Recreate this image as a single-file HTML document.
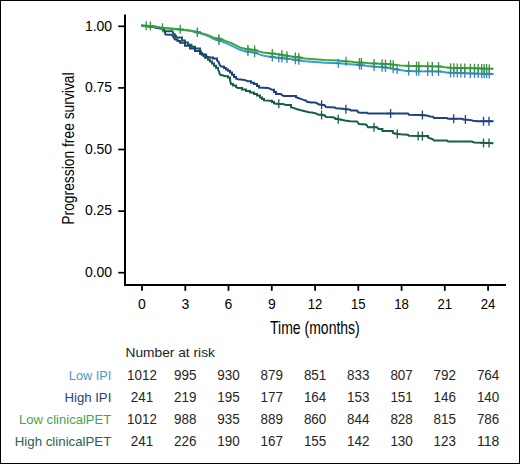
<!DOCTYPE html>
<html><head><meta charset="utf-8"><style>
html,body{margin:0;padding:0;background:#fff;}
body{width:520px;height:464px;overflow:hidden;}
.frame{position:absolute;left:0;top:0;width:518px;height:462px;border:1px solid #000;}
svg{position:absolute;left:0;top:0;font-family:"Liberation Sans",sans-serif;}
</style></head><body>
<div class="frame"></div>
<svg width="520" height="464" viewBox="0 0 520 464">
<path d="M125 14.5V285H506" fill="none" stroke="#000" stroke-width="2"/>
<path d="M118.2 26.3H125" stroke="#000" stroke-width="1.7"/>
<text x="112.1" y="30.5" text-anchor="end" font-size="14.5" textLength="27.2" lengthAdjust="spacingAndGlyphs">1.00</text>
<path d="M118.2 87.9H125" stroke="#000" stroke-width="1.7"/>
<text x="112.1" y="92.1" text-anchor="end" font-size="14.5" textLength="27.2" lengthAdjust="spacingAndGlyphs">0.75</text>
<path d="M118.2 149.5H125" stroke="#000" stroke-width="1.7"/>
<text x="112.1" y="153.7" text-anchor="end" font-size="14.5" textLength="27.2" lengthAdjust="spacingAndGlyphs">0.50</text>
<path d="M118.2 211.1H125" stroke="#000" stroke-width="1.7"/>
<text x="112.1" y="215.3" text-anchor="end" font-size="14.5" textLength="27.2" lengthAdjust="spacingAndGlyphs">0.25</text>
<path d="M118.2 272.7H125" stroke="#000" stroke-width="1.7"/>
<text x="112.1" y="276.9" text-anchor="end" font-size="14.5" textLength="27.2" lengthAdjust="spacingAndGlyphs">0.00</text>
<path d="M142.0 285V290.8" stroke="#000" stroke-width="1.8"/>
<text x="142.0" y="308.8" text-anchor="middle" font-size="14">0</text>
<path d="M185.3 285V290.8" stroke="#000" stroke-width="1.8"/>
<text x="185.3" y="308.8" text-anchor="middle" font-size="14">3</text>
<path d="M228.5 285V290.8" stroke="#000" stroke-width="1.8"/>
<text x="228.5" y="308.8" text-anchor="middle" font-size="14">6</text>
<path d="M271.8 285V290.8" stroke="#000" stroke-width="1.8"/>
<text x="271.8" y="308.8" text-anchor="middle" font-size="14">9</text>
<path d="M315.1 285V290.8" stroke="#000" stroke-width="1.8"/>
<text x="315.1" y="308.8" text-anchor="middle" font-size="14" textLength="14.6" lengthAdjust="spacingAndGlyphs">12</text>
<path d="M358.3 285V290.8" stroke="#000" stroke-width="1.8"/>
<text x="358.3" y="308.8" text-anchor="middle" font-size="14" textLength="14.6" lengthAdjust="spacingAndGlyphs">15</text>
<path d="M401.6 285V290.8" stroke="#000" stroke-width="1.8"/>
<text x="401.6" y="308.8" text-anchor="middle" font-size="14" textLength="14.6" lengthAdjust="spacingAndGlyphs">18</text>
<path d="M444.8 285V290.8" stroke="#000" stroke-width="1.8"/>
<text x="444.8" y="308.8" text-anchor="middle" font-size="14" textLength="14.6" lengthAdjust="spacingAndGlyphs">21</text>
<path d="M488.1 285V290.8" stroke="#000" stroke-width="1.8"/>
<text x="488.1" y="308.8" text-anchor="middle" font-size="14" textLength="14.6" lengthAdjust="spacingAndGlyphs">24</text>
<text x="270" y="333.7" font-size="18" textLength="89.8" lengthAdjust="spacingAndGlyphs">Time (months)</text>
<text transform="translate(74 224.7) rotate(-90)" x="0" y="0" font-size="16" textLength="152.3" lengthAdjust="spacingAndGlyphs">Progression free survival</text>
<polyline points="141.0,25.8 150.0,26.6 155.0,27.3 158.0,28.0 161.0,28.6 164.0,29.4 164.5,31.3 172.5,31.3 174.0,34.5 175.0,34.5 175.0,36.0 176.0,36.0 176.0,37.5 182.0,37.5 182.0,40.4 185.0,40.4 185.0,42.5 188.0,42.5 188.0,44.7 191.5,44.7 191.5,46.7 195.0,46.7 195.0,48.6 200.0,48.6 200.0,51.5 201.0,51.5 201.0,53.0 202.0,53.0 202.0,54.5 203.5,54.5 203.5,56.1 205.0,56.1 205.0,57.8 208.0,57.8 208.0,59.7 210.0,59.7 210.0,61.5 212.0,61.5 212.0,63.5 214.0,63.5 214.0,65.8 216.0,65.8 216.0,67.8 218.0,67.8 218.0,69.3 219.0,71.5 220.0,74.7 223.0,75.5 226.0,76.3 228.0,76.3 228.0,77.6 230.0,77.6 230.0,80.1 231.0,83.9 233.0,83.9 233.0,85.4 236.0,85.4 236.0,86.9 238.0,88.0 242.0,88.0 242.0,89.5 246.0,89.5 246.0,91.0 250.0,91.0 250.0,92.5 254.0,92.5 254.0,94.0 257.0,94.0 257.0,95.5 260.0,95.5 260.0,97.4 262.0,97.4 262.0,98.9 264.0,98.9 264.0,100.4 270.0,100.7 272.0,100.7 272.0,101.9 274.0,101.9 274.0,103.4 278.0,103.8 283.0,104.1 286.0,104.9 291.0,104.9 291.0,107.3 294.0,108.1 297.0,109.2 300.0,110.0 303.0,110.7 306.0,111.5 309.0,112.2 312.0,112.6 316.0,113.4 318.0,114.5 321.0,114.8 325.0,115.7 326.0,116.9 333.0,117.2 335.0,118.0 337.0,119.1 340.0,119.5 345.0,120.5 350.0,121.2 357.0,121.5 358.0,122.6 359.0,124.1 366.0,124.5 367.0,125.6 368.0,127.3 377.0,127.3 378.5,129.0 382.4,129.0 382.4,131.0 392.8,131.0 392.8,133.0 398.0,134.0 400.0,134.3 408.0,134.7 409.0,135.7 425.0,136.0 428.0,136.0 428.0,137.3 430.0,138.2 433.0,139.3 434.0,140.6 447.0,140.6 448.0,141.5 472.0,141.6 474.0,142.5 482.0,142.8 493.5,143.3" fill="none" stroke="#165e47" stroke-width="2.0" stroke-linejoin="miter"/>
<polyline points="141.0,25.8 150.0,26.6 155.0,27.3 158.0,28.0 161.0,28.6 164.0,29.4 165.5,34.6 172.0,34.7 173.5,37.2 175.0,39.5 177.5,39.5 177.5,41.1 180.0,41.1 180.0,42.8 185.0,42.8 185.0,45.7 190.0,45.7 190.0,48.6 195.0,48.6 195.0,51.0 200.0,51.0 200.0,53.9 202.0,54.4 206.0,54.4 206.0,56.3 210.0,57.4 213.0,57.4 213.0,58.6 217.0,58.6 217.0,60.5 218.5,61.6 219.5,64.6 221.0,66.5 224.0,66.5 224.0,68.0 226.0,68.0 226.0,69.5 228.0,69.5 228.0,70.7 230.0,70.7 230.0,72.5 232.0,72.5 232.0,74.8 234.0,74.8 234.0,77.1 236.0,77.1 236.0,78.6 238.0,79.3 243.0,79.7 245.0,80.1 248.0,81.2 251.0,81.2 251.0,82.7 254.0,82.7 254.0,84.0 257.0,84.0 257.0,86.0 259.0,86.0 259.0,87.5 268.0,87.9 270.0,88.7 272.0,89.8 274.0,89.8 274.0,92.1 276.0,92.1 276.0,94.0 281.0,94.0 282.0,95.1 284.0,96.0 294.0,96.0 296.0,96.0 296.0,97.2 299.0,98.3 302.0,99.4 306.0,100.6 307.0,101.7 311.0,102.4 315.0,102.4 317.0,103.2 318.0,104.0 320.0,104.4 322.0,104.8 325.0,105.6 326.0,107.1 335.0,107.4 336.0,108.2 343.0,108.8 346.0,109.2 350.0,109.6 351.0,110.4 357.0,110.6 358.0,112.1 360.0,112.8 367.0,112.8 368.0,113.5 408.0,113.5 409.0,114.7 420.0,114.9 424.0,115.3 428.0,115.8 430.0,116.4 433.0,116.8 434.0,117.9 447.0,117.9 448.0,118.8 462.0,118.8 464.0,119.5 470.0,119.9 473.0,120.7 478.0,121.2 493.5,121.2" fill="none" stroke="#1e4280" stroke-width="2.0" stroke-linejoin="miter"/>
<path d="M278.8 99.3V108.3M275.3 103.8H282.3" stroke="#165e47" stroke-width="1.3" fill="none"/><path d="M321.6 110.4V119.4M318.1 114.9H325.1" stroke="#165e47" stroke-width="1.3" fill="none"/><path d="M338.2 114.8V123.8M334.7 119.3H341.7" stroke="#165e47" stroke-width="1.3" fill="none"/><path d="M374.0 122.8V131.8M370.5 127.3H377.5" stroke="#165e47" stroke-width="1.3" fill="none"/><path d="M397.3 129.4V138.4M393.8 133.9H400.8" stroke="#165e47" stroke-width="1.3" fill="none"/><path d="M418.1 131.4V140.4M414.6 135.9H421.6" stroke="#165e47" stroke-width="1.3" fill="none"/><path d="M422.4 131.5V140.5M418.9 136.0H425.9" stroke="#165e47" stroke-width="1.3" fill="none"/><path d="M483.5 138.4V147.4M480.0 142.9H487.0" stroke="#165e47" stroke-width="1.3" fill="none"/><path d="M489.0 138.6V147.6M485.5 143.1H492.5" stroke="#165e47" stroke-width="1.3" fill="none"/>
<path d="M321.6 100.2V109.2M318.1 104.7H325.1" stroke="#1e4280" stroke-width="1.3" fill="none"/><path d="M345.9 104.7V113.7M342.4 109.2H349.4" stroke="#1e4280" stroke-width="1.3" fill="none"/><path d="M390.6 109.0V118.0M387.1 113.5H394.1" stroke="#1e4280" stroke-width="1.3" fill="none"/><path d="M422.4 110.6V119.6M418.9 115.1H425.9" stroke="#1e4280" stroke-width="1.3" fill="none"/><path d="M453.7 114.3V123.3M450.2 118.8H457.2" stroke="#1e4280" stroke-width="1.3" fill="none"/><path d="M465.4 115.1V124.1M461.9 119.6H468.9" stroke="#1e4280" stroke-width="1.3" fill="none"/><path d="M483.5 116.7V125.7M480.0 121.2H487.0" stroke="#1e4280" stroke-width="1.3" fill="none"/><path d="M489.0 116.7V125.7M485.5 121.2H492.5" stroke="#1e4280" stroke-width="1.3" fill="none"/>
<polyline points="141.0,25.5 150.0,26.0 155.0,26.6 160.0,27.4 165.0,28.2 172.0,29.0 180.0,29.8 190.0,30.8 195.0,31.8 200.0,33.2 205.0,34.8 210.0,36.8 213.0,38.8 218.0,40.1 222.0,41.5 226.0,43.2 232.0,45.8 236.0,47.8 240.0,49.8 245.0,51.2 250.0,51.8 255.0,52.8 260.0,54.6 265.0,56.1 272.0,57.0 280.0,57.9 290.0,58.9 298.0,60.2 305.0,61.2 315.0,61.9 325.0,62.7 338.0,63.3 345.0,63.8 350.0,64.2 360.0,65.0 370.0,66.2 376.0,66.8 385.0,67.4 392.0,68.5 396.0,69.3 400.0,70.1 405.0,70.8 414.0,71.2 440.0,71.5 445.0,72.3 450.0,72.7 470.0,73.4 493.5,74.0" fill="none" stroke="#3d9dd6" stroke-width="2.0" stroke-linejoin="miter"/>
<polyline points="141.0,25.5 150.0,26.0 155.0,26.6 160.0,27.4 165.0,28.0 172.0,28.5 180.0,29.3 190.0,30.4 195.0,31.4 200.0,32.7 205.0,34.1 210.0,35.8 213.0,37.4 218.0,38.5 222.0,39.5 226.0,41.2 232.0,43.4 235.0,44.8 238.0,46.4 241.0,47.8 245.0,48.8 250.0,49.5 255.0,50.1 258.0,51.1 263.0,52.4 270.0,53.3 275.0,53.7 280.0,54.4 285.0,55.5 290.0,56.2 295.0,57.0 300.0,57.6 305.0,58.5 315.0,59.2 325.0,60.0 338.0,60.5 345.0,61.2 350.0,61.5 355.0,62.3 365.0,62.7 370.0,63.3 376.0,63.6 385.0,63.9 390.0,64.3 397.0,65.1 400.0,65.6 414.0,66.0 440.0,66.5 445.0,67.3 450.0,67.7 470.0,68.2 493.5,68.8" fill="none" stroke="#3da742" stroke-width="2.0" stroke-linejoin="miter"/>
<path d="M278.8 53.3V62.3M275.3 57.8H282.3" stroke="#3484bc" stroke-width="1.3" fill="none"/><path d="M338.3 58.8V67.8M334.8 63.3H341.8" stroke="#3484bc" stroke-width="1.3" fill="none"/><path d="M397.1 65.0V74.0M393.6 69.5H400.6" stroke="#3484bc" stroke-width="1.3" fill="none"/><path d="M197.4 28.0V37.0M193.9 32.5H200.9" stroke="#3484bc" stroke-width="1.3" fill="none"/><path d="M218.9 35.9V44.9M215.4 40.4H222.4" stroke="#3484bc" stroke-width="1.3" fill="none"/><path d="M247.9 47.0V56.0M244.4 51.5H251.4" stroke="#3484bc" stroke-width="1.3" fill="none"/><path d="M254.6 48.2V57.2M251.1 52.7H258.1" stroke="#3484bc" stroke-width="1.3" fill="none"/><path d="M272.3 52.5V61.5M268.8 57.0H275.8" stroke="#3484bc" stroke-width="1.3" fill="none"/><path d="M281.9 53.6V62.6M278.4 58.1H285.4" stroke="#3484bc" stroke-width="1.3" fill="none"/><path d="M286.9 54.1V63.1M283.4 58.6H290.4" stroke="#3484bc" stroke-width="1.3" fill="none"/><path d="M295.4 55.3V64.3M291.9 59.8H298.9" stroke="#3484bc" stroke-width="1.3" fill="none"/><path d="M298.8 55.8V64.8M295.3 60.3H302.3" stroke="#3484bc" stroke-width="1.3" fill="none"/><path d="M359.5 60.5V69.5M356.0 65.0H363.0" stroke="#3484bc" stroke-width="1.3" fill="none"/><path d="M361.4 60.7V69.7M357.9 65.2H364.9" stroke="#3484bc" stroke-width="1.3" fill="none"/><path d="M374.1 62.1V71.1M370.6 66.6H377.6" stroke="#3484bc" stroke-width="1.3" fill="none"/><path d="M382.1 62.7V71.7M378.6 67.2H385.6" stroke="#3484bc" stroke-width="1.3" fill="none"/><path d="M385.5 63.0V72.0M382.0 67.5H389.0" stroke="#3484bc" stroke-width="1.3" fill="none"/><path d="M393.2 64.2V73.2M389.7 68.7H396.7" stroke="#3484bc" stroke-width="1.3" fill="none"/><path d="M408.6 66.5V75.5M405.1 71.0H412.1" stroke="#3484bc" stroke-width="1.3" fill="none"/><path d="M416.5 66.7V75.7M413.0 71.2H420.0" stroke="#3484bc" stroke-width="1.3" fill="none"/><path d="M418.8 66.8V75.8M415.3 71.3H422.3" stroke="#3484bc" stroke-width="1.3" fill="none"/><path d="M427.7 66.9V75.9M424.2 71.4H431.2" stroke="#3484bc" stroke-width="1.3" fill="none"/><path d="M432.3 66.9V75.9M428.8 71.4H435.8" stroke="#3484bc" stroke-width="1.3" fill="none"/><path d="M438.5 67.0V76.0M435.0 71.5H442.0" stroke="#3484bc" stroke-width="1.3" fill="none"/><path d="M450.6 68.2V77.2M447.1 72.7H454.1" stroke="#3484bc" stroke-width="1.3" fill="none"/><path d="M453.9 68.3V77.3M450.4 72.8H457.4" stroke="#3484bc" stroke-width="1.3" fill="none"/><path d="M457.3 68.5V77.5M453.8 73.0H460.8" stroke="#3484bc" stroke-width="1.3" fill="none"/><path d="M460.9 68.6V77.6M457.4 73.1H464.4" stroke="#3484bc" stroke-width="1.3" fill="none"/><path d="M464.8 68.7V77.7M461.2 73.2H468.2" stroke="#3484bc" stroke-width="1.3" fill="none"/><path d="M470.3 68.9V77.9M466.8 73.4H473.8" stroke="#3484bc" stroke-width="1.3" fill="none"/><path d="M474.5 69.0V78.0M471.0 73.5H478.0" stroke="#3484bc" stroke-width="1.3" fill="none"/><path d="M478.2 69.1V78.1M474.7 73.6H481.7" stroke="#3484bc" stroke-width="1.3" fill="none"/><path d="M481.7 69.2V78.2M478.2 73.7H485.2" stroke="#3484bc" stroke-width="1.3" fill="none"/><path d="M484.2 69.3V78.3M480.7 73.8H487.7" stroke="#3484bc" stroke-width="1.3" fill="none"/><path d="M486.6 69.3V78.3M483.1 73.8H490.1" stroke="#3484bc" stroke-width="1.3" fill="none"/><path d="M489.3 69.4V78.4M485.8 73.9H492.8" stroke="#3484bc" stroke-width="1.3" fill="none"/>
<path d="M146.2 21.3V30.3M142.7 25.8H149.7" stroke="#36943b" stroke-width="1.3" fill="none"/><path d="M150.4 21.5V30.5M146.9 26.0H153.9" stroke="#36943b" stroke-width="1.3" fill="none"/><path d="M162.5 23.2V32.2M159.0 27.7H166.0" stroke="#36943b" stroke-width="1.3" fill="none"/><path d="M180.2 24.8V33.8M176.7 29.3H183.7" stroke="#36943b" stroke-width="1.3" fill="none"/><path d="M346.0 56.8V65.8M342.5 61.3H349.5" stroke="#36943b" stroke-width="1.3" fill="none"/><path d="M390.5 59.9V68.9M387.0 64.4H394.0" stroke="#36943b" stroke-width="1.3" fill="none"/><path d="M197.4 27.5V36.5M193.9 32.0H200.9" stroke="#36943b" stroke-width="1.3" fill="none"/><path d="M218.9 34.2V43.2M215.4 38.7H222.4" stroke="#36943b" stroke-width="1.3" fill="none"/><path d="M247.9 44.7V53.7M244.4 49.2H251.4" stroke="#36943b" stroke-width="1.3" fill="none"/><path d="M254.6 45.6V54.6M251.1 50.1H258.1" stroke="#36943b" stroke-width="1.3" fill="none"/><path d="M272.3 49.0V58.0M268.8 53.5H275.8" stroke="#36943b" stroke-width="1.3" fill="none"/><path d="M281.9 50.3V59.3M278.4 54.8H285.4" stroke="#36943b" stroke-width="1.3" fill="none"/><path d="M286.9 51.3V60.3M283.4 55.8H290.4" stroke="#36943b" stroke-width="1.3" fill="none"/><path d="M295.4 52.5V61.5M291.9 57.0H298.9" stroke="#36943b" stroke-width="1.3" fill="none"/><path d="M298.8 53.0V62.0M295.3 57.5H302.3" stroke="#36943b" stroke-width="1.3" fill="none"/><path d="M359.5 58.0V67.0M356.0 62.5H363.0" stroke="#36943b" stroke-width="1.3" fill="none"/><path d="M361.4 58.1V67.1M357.9 62.6H364.9" stroke="#36943b" stroke-width="1.3" fill="none"/><path d="M374.1 59.0V68.0M370.6 63.5H377.6" stroke="#36943b" stroke-width="1.3" fill="none"/><path d="M382.1 59.3V68.3M378.6 63.8H385.6" stroke="#36943b" stroke-width="1.3" fill="none"/><path d="M385.5 59.4V68.4M382.0 63.9H389.0" stroke="#36943b" stroke-width="1.3" fill="none"/><path d="M393.2 60.2V69.2M389.7 64.7H396.7" stroke="#36943b" stroke-width="1.3" fill="none"/><path d="M408.6 61.3V70.3M405.1 65.8H412.1" stroke="#36943b" stroke-width="1.3" fill="none"/><path d="M416.5 61.5V70.5M413.0 66.0H420.0" stroke="#36943b" stroke-width="1.3" fill="none"/><path d="M418.8 61.6V70.6M415.3 66.1H422.3" stroke="#36943b" stroke-width="1.3" fill="none"/><path d="M427.7 61.8V70.8M424.2 66.3H431.2" stroke="#36943b" stroke-width="1.3" fill="none"/><path d="M432.3 61.9V70.9M428.8 66.4H435.8" stroke="#36943b" stroke-width="1.3" fill="none"/><path d="M438.5 62.0V71.0M435.0 66.5H442.0" stroke="#36943b" stroke-width="1.3" fill="none"/><path d="M450.6 63.2V72.2M447.1 67.7H454.1" stroke="#36943b" stroke-width="1.3" fill="none"/><path d="M453.9 63.3V72.3M450.4 67.8H457.4" stroke="#36943b" stroke-width="1.3" fill="none"/><path d="M457.3 63.4V72.4M453.8 67.9H460.8" stroke="#36943b" stroke-width="1.3" fill="none"/><path d="M460.9 63.5V72.5M457.4 68.0H464.4" stroke="#36943b" stroke-width="1.3" fill="none"/><path d="M464.8 63.6V72.6M461.2 68.1H468.2" stroke="#36943b" stroke-width="1.3" fill="none"/><path d="M470.3 63.7V72.7M466.8 68.2H473.8" stroke="#36943b" stroke-width="1.3" fill="none"/><path d="M474.5 63.8V72.8M471.0 68.3H478.0" stroke="#36943b" stroke-width="1.3" fill="none"/><path d="M478.2 63.9V72.9M474.7 68.4H481.7" stroke="#36943b" stroke-width="1.3" fill="none"/><path d="M481.7 64.0V73.0M478.2 68.5H485.2" stroke="#36943b" stroke-width="1.3" fill="none"/><path d="M484.2 64.1V73.1M480.7 68.6H487.7" stroke="#36943b" stroke-width="1.3" fill="none"/><path d="M486.6 64.1V73.1M483.1 68.6H490.1" stroke="#36943b" stroke-width="1.3" fill="none"/><path d="M489.3 64.2V73.2M485.8 68.7H492.8" stroke="#36943b" stroke-width="1.3" fill="none"/>
<text x="125.5" y="357.3" font-size="13.5" textLength="89.4" lengthAdjust="spacingAndGlyphs" fill="#222">Number at risk</text>
<text x="111.3" y="379.5" text-anchor="end" font-size="13.3" fill="#4699cb" textLength="42.5" lengthAdjust="spacingAndGlyphs">Low IPI</text>
<text x="142.0" y="379.5" text-anchor="middle" font-size="14" fill="#262626" textLength="29.8" lengthAdjust="spacingAndGlyphs">1012</text>
<text x="185.3" y="379.5" text-anchor="middle" font-size="14" fill="#262626" textLength="22.4" lengthAdjust="spacingAndGlyphs">995</text>
<text x="228.5" y="379.5" text-anchor="middle" font-size="14" fill="#262626" textLength="22.4" lengthAdjust="spacingAndGlyphs">930</text>
<text x="271.8" y="379.5" text-anchor="middle" font-size="14" fill="#262626" textLength="22.4" lengthAdjust="spacingAndGlyphs">879</text>
<text x="315.1" y="379.5" text-anchor="middle" font-size="14" fill="#262626" textLength="22.4" lengthAdjust="spacingAndGlyphs">851</text>
<text x="358.3" y="379.5" text-anchor="middle" font-size="14" fill="#262626" textLength="22.4" lengthAdjust="spacingAndGlyphs">833</text>
<text x="401.6" y="379.5" text-anchor="middle" font-size="14" fill="#262626" textLength="22.4" lengthAdjust="spacingAndGlyphs">807</text>
<text x="444.8" y="379.5" text-anchor="middle" font-size="14" fill="#262626" textLength="22.4" lengthAdjust="spacingAndGlyphs">792</text>
<text x="488.1" y="379.5" text-anchor="middle" font-size="14" fill="#262626" textLength="22.4" lengthAdjust="spacingAndGlyphs">764</text>
<text x="111.3" y="401.5" text-anchor="end" font-size="13.3" fill="#22447a" textLength="46.8" lengthAdjust="spacingAndGlyphs">High IPI</text>
<text x="142.0" y="401.5" text-anchor="middle" font-size="14" fill="#262626" textLength="22.4" lengthAdjust="spacingAndGlyphs">241</text>
<text x="185.3" y="401.5" text-anchor="middle" font-size="14" fill="#262626" textLength="22.4" lengthAdjust="spacingAndGlyphs">219</text>
<text x="228.5" y="401.5" text-anchor="middle" font-size="14" fill="#262626" textLength="22.4" lengthAdjust="spacingAndGlyphs">195</text>
<text x="271.8" y="401.5" text-anchor="middle" font-size="14" fill="#262626" textLength="22.4" lengthAdjust="spacingAndGlyphs">177</text>
<text x="315.1" y="401.5" text-anchor="middle" font-size="14" fill="#262626" textLength="22.4" lengthAdjust="spacingAndGlyphs">164</text>
<text x="358.3" y="401.5" text-anchor="middle" font-size="14" fill="#262626" textLength="22.4" lengthAdjust="spacingAndGlyphs">153</text>
<text x="401.6" y="401.5" text-anchor="middle" font-size="14" fill="#262626" textLength="22.4" lengthAdjust="spacingAndGlyphs">151</text>
<text x="444.8" y="401.5" text-anchor="middle" font-size="14" fill="#262626" textLength="22.4" lengthAdjust="spacingAndGlyphs">146</text>
<text x="488.1" y="401.5" text-anchor="middle" font-size="14" fill="#262626" textLength="22.4" lengthAdjust="spacingAndGlyphs">140</text>
<text x="111.3" y="423.5" text-anchor="end" font-size="13.3" fill="#47a24f" textLength="92.3" lengthAdjust="spacingAndGlyphs">Low clinicalPET</text>
<text x="142.0" y="423.5" text-anchor="middle" font-size="14" fill="#262626" textLength="29.8" lengthAdjust="spacingAndGlyphs">1012</text>
<text x="185.3" y="423.5" text-anchor="middle" font-size="14" fill="#262626" textLength="22.4" lengthAdjust="spacingAndGlyphs">988</text>
<text x="228.5" y="423.5" text-anchor="middle" font-size="14" fill="#262626" textLength="22.4" lengthAdjust="spacingAndGlyphs">935</text>
<text x="271.8" y="423.5" text-anchor="middle" font-size="14" fill="#262626" textLength="22.4" lengthAdjust="spacingAndGlyphs">889</text>
<text x="315.1" y="423.5" text-anchor="middle" font-size="14" fill="#262626" textLength="22.4" lengthAdjust="spacingAndGlyphs">860</text>
<text x="358.3" y="423.5" text-anchor="middle" font-size="14" fill="#262626" textLength="22.4" lengthAdjust="spacingAndGlyphs">844</text>
<text x="401.6" y="423.5" text-anchor="middle" font-size="14" fill="#262626" textLength="22.4" lengthAdjust="spacingAndGlyphs">828</text>
<text x="444.8" y="423.5" text-anchor="middle" font-size="14" fill="#262626" textLength="22.4" lengthAdjust="spacingAndGlyphs">815</text>
<text x="488.1" y="423.5" text-anchor="middle" font-size="14" fill="#262626" textLength="22.4" lengthAdjust="spacingAndGlyphs">786</text>
<text x="111.3" y="445.5" text-anchor="end" font-size="13.3" fill="#256357" textLength="96.5" lengthAdjust="spacingAndGlyphs">High clinicalPET</text>
<text x="142.0" y="445.5" text-anchor="middle" font-size="14" fill="#262626" textLength="22.4" lengthAdjust="spacingAndGlyphs">241</text>
<text x="185.3" y="445.5" text-anchor="middle" font-size="14" fill="#262626" textLength="22.4" lengthAdjust="spacingAndGlyphs">226</text>
<text x="228.5" y="445.5" text-anchor="middle" font-size="14" fill="#262626" textLength="22.4" lengthAdjust="spacingAndGlyphs">190</text>
<text x="271.8" y="445.5" text-anchor="middle" font-size="14" fill="#262626" textLength="22.4" lengthAdjust="spacingAndGlyphs">167</text>
<text x="315.1" y="445.5" text-anchor="middle" font-size="14" fill="#262626" textLength="22.4" lengthAdjust="spacingAndGlyphs">155</text>
<text x="358.3" y="445.5" text-anchor="middle" font-size="14" fill="#262626" textLength="22.4" lengthAdjust="spacingAndGlyphs">142</text>
<text x="401.6" y="445.5" text-anchor="middle" font-size="14" fill="#262626" textLength="22.4" lengthAdjust="spacingAndGlyphs">130</text>
<text x="444.8" y="445.5" text-anchor="middle" font-size="14" fill="#262626" textLength="22.4" lengthAdjust="spacingAndGlyphs">123</text>
<text x="488.1" y="445.5" text-anchor="middle" font-size="14" fill="#262626" textLength="22.4" lengthAdjust="spacingAndGlyphs">118</text>
</svg>
</body></html>
